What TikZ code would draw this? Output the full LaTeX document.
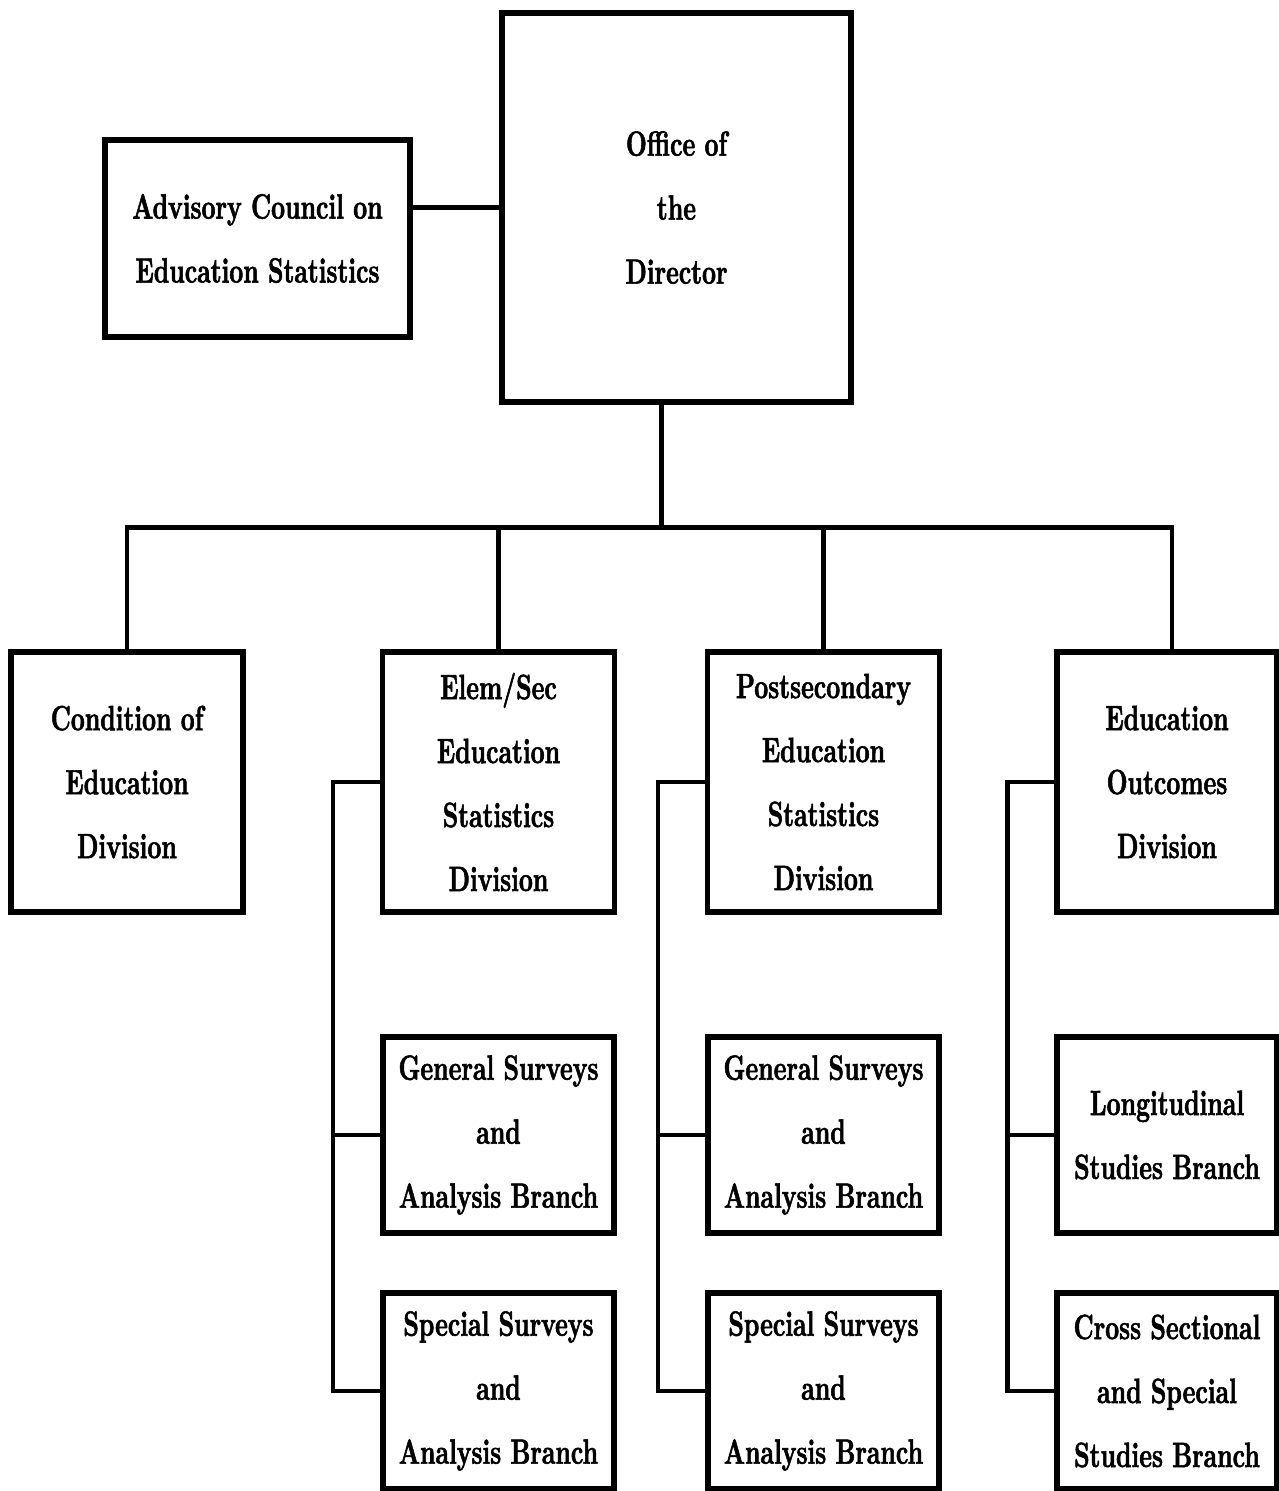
\documentclass[tikz,border=0pt]{standalone}
\usepackage{fontspec}
\usepackage{tikz}
\usetikzlibrary{positioning}
\newfontfamily\orgfont[FakeStretch=0.69, FakeBold=1.5]{Latin Modern Roman}
\tikzstyle{unit} = [rectangle, draw=black, line width=1.5pt, align=center, inner sep=0pt, font={\orgfont\bfseries\fontsize{10}{18.2}\selectfont}]
\tikzstyle{division} = [unit, minimum width=2.32cm, minimum height=2.6cm]
\tikzstyle{branch} = [unit, minimum width=2.31cm, minimum height=1.96cm]
\tikzstyle{line} = [line width=1.3pt]

\begin{document}
\begin{tikzpicture}
        \useasboundingbox (0,0) rectangle (12.79,-14.91);
        \node (office) [unit, minimum width=3.49cm, minimum height=3.89cm] at (6.765,-2.075) {Office of\\the\\Director};
        \node (adv) [unit, minimum width=3.05cm, minimum height=1.97cm] at (2.575,-2.385) {Advisory Council on\\Education Statistics};
        \node (cond) [division] at (1.27,-7.82) {Condition of\\Education\\Division};
        \node (elem) [division] at (4.985,-7.82) {Elem/Sec\\Education\\Statistics\\Division};
        \node (post) [division] at (8.235,-7.82) {Postsecondary\\Education\\Statistics\\Division};
        \node (outc) [division, minimum width=2.2cm] at (11.67,-7.82) {Education\\Outcomes\\Division};
        \node (gen1) [branch] at (4.985,-11.35) {General Surveys\\and\\Analysis Branch};
        \node (spec1) [branch] at (4.985,-13.91) {Special Surveys\\and\\Analysis Branch};
        \node (gen2) [branch] at (8.235,-11.35) {General Surveys\\and\\Analysis Branch};
        \node (spec2) [branch] at (8.235,-13.91) {Special Surveys\\and\\Analysis Branch};
        \node (long) [branch, minimum width=2.2cm] at (11.67,-11.35) {Longitudinal\\Studies Branch};
        \node (cross) [branch, minimum width=2.2cm] at (11.67,-13.91) {Cross Sectional\\and Special\\Studies Branch};
        \draw [line] (office.west) -- (office.west -| adv.east);
        \draw [line] ([xshift=-0.15cm]office.south) -- ++(0,-1.23) coordinate (bus);
        \draw [line] (cond.north) |- (bus) -| ([xshift=0.05cm]outc.north);
        \draw [line] (elem.north) -- (elem.north |- bus);
        \draw [line] (post.north) -- (post.north |- bus);
        \draw [line] (elem.west) -- ++(-0.47,0) |- (spec1.west);
        \draw [line] (gen1.west) -- ++(-0.47,0);
        \draw [line] (post.west) -- ++(-0.47,0) |- (spec2.west);
        \draw [line] (gen2.west) -- ++(-0.47,0);
        \draw [line] (outc.west) -- ++(-0.47,0) |- (cross.west);
        \draw [line] (long.west) -- ++(-0.47,0);
    \end{tikzpicture}
\end{document}
